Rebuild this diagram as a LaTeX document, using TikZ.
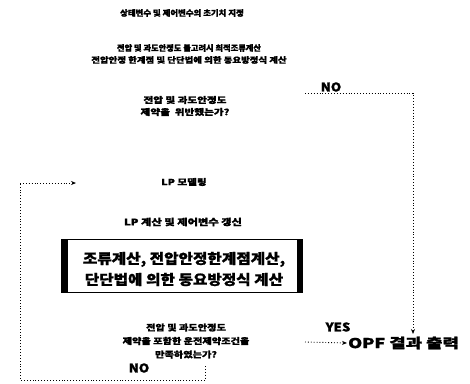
\documentclass[tikz,border=0pt]{standalone}
\usepackage{fontspec}
\usepackage{graphicx}
\newfontfamily\kr{Noto Sans CJK KR}[FakeBold=1.2]
\newcommand{\sx}[2]{\scalebox{#1}[1]{#2}}
\usetikzlibrary{arrows.meta}
\begin{document}
\begin{tikzpicture}[x=1pt,y=-1pt,
  txt/.style={font=\kr\bfseries\fontsize{8}{12}\selectfont, align=center, inner sep=1pt},
  lbl/.style={font=\kr\bfseries\fontsize{12}{12}\selectfont, inner sep=1pt},
  flow/.style={dotted, line width=0.9pt},
  arr/.style={flow, -{Stealth[length=5pt,width=4pt]}}]
\useasboundingbox (0,0) rectangle (470,383);
\node[txt] (t1) at (182,13) {\sx{1.05}{상태변수 및 제어변수의 초기치 지정}};
\node[txt] (t2) at (189,54) {\sx{1.03}{전압 및 과도안정도 불고려시 최적조류계산}\\\sx{1.18}{전압안정 한계점 및 단단법에 의한 동요방정식 계산}};
\node[txt, font=\kr\bfseries\fontsize{8.5}{12}\selectfont] (d1) at (185,106) {\sx{1.25}{전압 및 과도안정도}\\\sx{1.25}{제약을 \ 위반했는가?}};
\node[lbl] (no1) at (331,87) {\sx{1.1}{NO}};
\node[txt, font=\kr\bfseries\fontsize{8.5}{12}\selectfont] (lp) at (184,182) {\sx{1.25}{LP 모델링}};
\node[txt, font=\kr\bfseries\fontsize{9}{12}\selectfont] (lpc) at (183,222) {\sx{1.25}{LP 계산 및 제어변수 갱신}};
\node[draw, line width=1.8pt, minimum width=240pt, minimum height=53pt, inner sep=0pt] (box) at (182,266) {};
\node[font=\kr\bfseries\fontsize{14}{21}\selectfont, align=center, inner sep=0pt] (boxtxt) at (184,269)
  {\sx{1.12}{조류계산, 전압안정한계점계산,}\\\sx{1.12}{단단법에 의한 동요방정식 계산}};
\fill (box.north west) rectangle ([xshift=7pt]box.south west);
\fill ([xshift=-6pt]box.north east) rectangle (box.south east);
\node[txt, font=\kr\bfseries\fontsize{8.5}{13.5}\selectfont] (d2) at (186,341) {\sx{1.2}{전압 및 과도안정도}\\\sx{1.2}{제약을 포함한 운전제약조건을}\\\sx{1.2}{만족하였는가?}};
\node[lbl] (yes) at (338,327) {\sx{1.1}{YES}};
\node[lbl] (no2) at (139,368) {\sx{1.1}{NO}};
\node[font=\kr\bfseries\fontsize{13.5}{14}\selectfont, inner sep=1pt, anchor=west] (opf) at (347,343) {\sx{1.32}{OPF 결과 출력}};
% connectors
\coordinate (c1) at (305,93);
\coordinate (c2) at (413,334);
\draw[arr] (c1) -| (c2);
\coordinate (y1) at (305,342);
\draw[arr] (y1) -- (opf.west);
\coordinate (n1) at (205,366);
\coordinate (n2) at (20,380);
\coordinate (n3) at (20,183);
\coordinate (n4) at (76,183);
\draw[flow] (n1) |- (n2) -- (n3);
\draw[arr] (n3) -- (n4);
\end{tikzpicture}
\end{document}
